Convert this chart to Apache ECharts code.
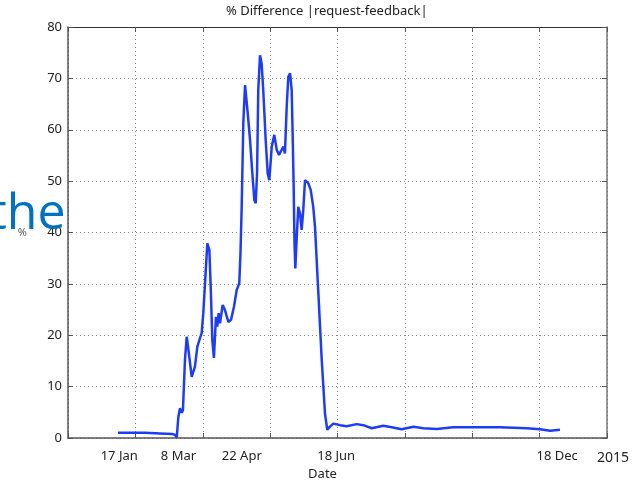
<!DOCTYPE html>
<html>
<head>
<meta charset="utf-8">
<script src="https://cdn.jsdelivr.net/npm/echarts@6/dist/echarts.min.js"></script>
<style>
html,body{margin:0;padding:0;background:#fff;}
#chart{width:638px;height:481px;}
</style>
</head>
<body>
<div id="chart"></div>
<script>
// ---- data ----
const titleText = '% Difference |request-feedback|';
const xLabelDays = [38, 82, 129, 199, 363];
const xLabelNames = ['17 Jan', '8 Mar', '22 Apr', '18 Jun', '18 Dec'];
const yearLabel = '2015';
const xName = 'Date';
const yName = '%';
const overlayWord = 'the';

const days = [37.1, 46.0, 57.1, 68.3, 77.2, 79.4, 80.7, 81.9, 83.1, 84.4, 85.3, 86.8, 88.1, 89.1, 91.8, 94.2, 96.0, 98.0, 99.2, 100.4,
  101.7, 103.4, 104.9, 105.9, 107.1, 108.3, 109.8, 110.8, 111.8, 112.8, 114.8, 116.5, 119.0, 121.0, 123.2, 125.2, 127.1, 128.0,
  128.9, 130.1, 131.4, 132.6, 133.4, 135.1, 136.8, 138.3, 139.3, 140.3, 141.2, 142.5, 143.7, 144.9, 146.7, 148.2, 149.4,
  151.2, 153.1, 154.9, 156.6, 158.6, 159.8, 161.0, 162.3, 163.5, 164.8, 166.0, 166.8, 167.4, 168.1, 168.7, 169.4, 170.9,
  172.2, 173.4, 174.6, 175.9, 177.1, 178.3, 180.1, 182.0, 183.3, 185.8, 188.3, 190.7, 192.4, 194.4, 196.9, 201.9, 206.8,
  214.2, 219.2, 225.4, 234.0, 240.2, 247.6, 256.3, 263.7, 273.6, 285.9, 300.8, 320.6, 340.4, 350.3, 357.7, 365.1];
const pct = [1.0, 1.0, 1.0, 0.9, 0.8, 0.6, 0.1, 4.1, 5.8, 4.9, 5.4, 15.2, 19.7, 17.8, 11.9, 13.9, 17.8, 19.5, 20.4, 24.3,
  30.2, 37.9, 36.6, 29.5, 19.1, 15.6, 23.6, 21.7, 24.3, 22.3, 25.9, 24.9, 22.6, 23.0, 25.6, 28.8, 30.1, 36.0,
  45.0, 61.3, 68.7, 68.4, 63.2, 58.0, 51.5, 46.3, 45.7, 51.5, 67.7, 74.5, 72.9, 67.7, 58.0, 51.5, 50.2,
  56.7, 59.0, 56.1, 55.1, 56.1, 56.7, 55.4, 64.5, 70.3, 71.0, 67.7, 58.0, 50.0, 38.0, 33.0, 37.2, 45.0,
  43.7, 40.5, 44.4, 50.2, 50.5, 49.6, 48.3, 45.0, 41.1, 28.2, 15.2, 4.8, 1.6, 2.2, 2.8, 2.5, 2.3,
  2.7, 2.5, 1.9, 2.4, 2.1, 1.7, 2.2, 1.9, 1.75, 2.1, 2.1, 2.1, 1.9, 1.7, 1.4, 1.6];

const xMin = 0, xMax = 400, xStep = 50;
const yMin = 0, yMax = 80, yStep = 10;

// ---- chart ----
const chart = echarts.init(document.getElementById('chart'), null, {renderer: 'canvas'});
const FONT = 'Noto Sans';
const axisCol = '#555';
const gridLine = {show: true, lineStyle: {type: [1, 3], color: '#8a8a8a', width: 1}};
const innerTick = {show: true, inside: true, length: 5, lineStyle: {color: axisCol, width: 1}};

const option = {
  animation: false,
  backgroundColor: '#fff',
  title: [
    {text: titleText, left: 221, top: 0, padding: 5,
     textStyle: {fontFamily: FONT, fontSize: 13, fontWeight: 'normal', color: '#222'}},
    {text: yearLabel, left: 592, top: 446, padding: 5,
     textStyle: {fontFamily: FONT, fontSize: 14, fontWeight: 'normal', color: '#222'}}
  ],
  grid: {left: 68, right: 31, top: 27, bottom: 43, containLabel: false, outerBoundsMode: 'none'},
  xAxis: [
    {type: 'value', min: xMin, max: xMax, interval: xStep, position: 'bottom',
     name: xName, nameLocation: 'middle', nameGap: 28,
     nameTextStyle: {fontFamily: FONT, fontSize: 13, color: '#222', padding: [0, 30, 0, 0]},
     axisLine: {show: true, lineStyle: {color: axisCol, width: 1.5}},
     axisTick: innerTick,
     axisLabel: {show: true, customValues: xLabelDays, margin: 12,
       fontFamily: FONT, fontSize: 13, color: '#222',
       formatter: v => xLabelNames[xLabelDays.indexOf(v)] || ''},
     splitLine: gridLine},
    {type: 'value', min: xMin, max: xMax, interval: xStep, position: 'top',
     axisLine: {show: true, onZero: false, lineStyle: {color: '#333', width: 1}},
     axisTick: innerTick, axisLabel: {show: false}, splitLine: {show: false}}
  ],
  yAxis: [
    {type: 'value', min: yMin, max: yMax, interval: yStep, position: 'left',
     name: yName, nameLocation: 'middle', nameRotate: 0, nameGap: 41,
     nameTextStyle: {fontFamily: FONT, fontSize: 11, color: '#555'},
     axisLine: {show: true, lineStyle: {color: axisCol, width: 1.5}},
     axisTick: innerTick,
     axisLabel: {show: true, margin: 6, fontFamily: FONT, fontSize: 13, color: '#222'},
     splitLine: gridLine},
    {type: 'value', min: yMin, max: yMax, interval: yStep, position: 'right',
     axisLine: {show: true, onZero: false, lineStyle: {color: '#777', width: 1.5}},
     axisTick: innerTick, axisLabel: {show: false}, splitLine: {show: false}}
  ],
  series: [{
    type: 'line', xAxisIndex: 0, yAxisIndex: 0,
    data: days.map((d, i) => [d, pct[i]]),
    showSymbol: false, smooth: false,
    lineStyle: {color: '#1f3cf5', width: 2.5},
    itemStyle: {color: '#1f3cf5'}, z: 5
  }],
  graphic: [{
    type: 'text', left: -11, top: 190, z: 100,
    style: {text: overlayWord, fill: '#0070c0', font: '50px "Open Sans"'}
  }]
};
chart.setOption(option);
</script>
</body>
</html>
